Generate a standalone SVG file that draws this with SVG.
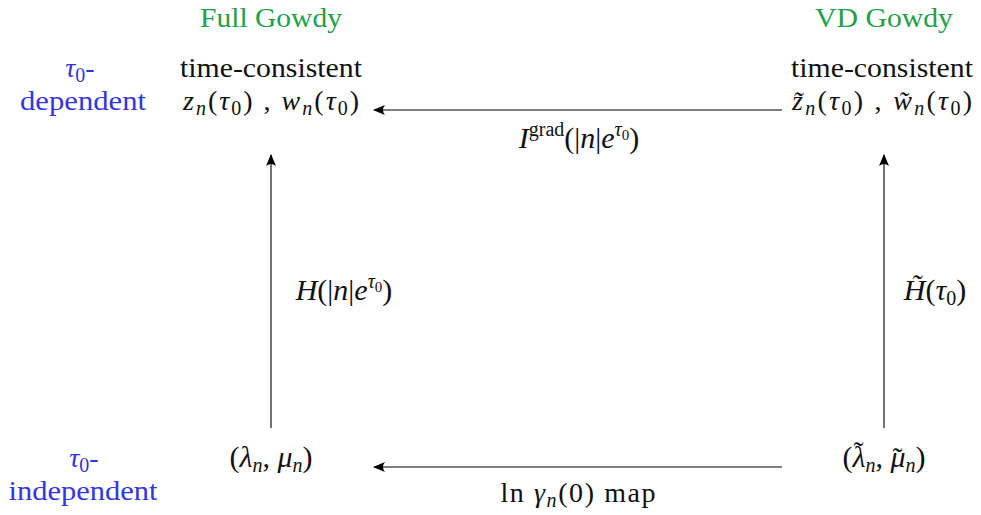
<svg xmlns="http://www.w3.org/2000/svg" width="981" height="515" viewBox="0 0 981 515">
<defs>
<marker id="ah" viewBox="0 0 12 10" refX="11" refY="5" markerWidth="12" markerHeight="10" markerUnits="userSpaceOnUse" orient="auto">
<path d="M0,0 Q4,5 0,10 L12,5 Z" fill="#000"/>
</marker>
<style>
text{font-family:"Liberation Serif","DejaVu Serif",serif;font-size:28px;fill:#111;}
text.m{font-size:30px;}
.it{font-style:italic;}
.sb{font-size:20px;}
.sp{font-size:20px;}
.ss{font-size:15px;}
.blue{fill:#3535e0;}
.green{fill:#22a04a;}
.conn line{stroke:#000;stroke-width:1.1;fill:none;marker-end:url(#ah);}
</style>
</defs>
<rect width="981" height="515" fill="#fff"/>
<g id="headers">
<text class="green" x="271" y="27" text-anchor="middle" textLength="142" lengthAdjust="spacingAndGlyphs">Full Gowdy</text>
<text class="green" x="884" y="27" text-anchor="middle" textLength="138" lengthAdjust="spacingAndGlyphs">VD Gowdy</text>
</g>
<g id="row-labels">
<text class="blue" x="80" y="77" text-anchor="middle"><tspan class="it">τ</tspan><tspan class="sb" dy="5">0</tspan><tspan dy="-5">-</tspan></text>
<text class="blue" x="83" y="110" text-anchor="middle" textLength="126" lengthAdjust="spacingAndGlyphs">dependent</text>
<text class="blue" x="84" y="467" text-anchor="middle"><tspan class="it">τ</tspan><tspan class="sb" dy="5">0</tspan><tspan dy="-5">-</tspan></text>
<text class="blue" x="83" y="500" text-anchor="middle" textLength="149" lengthAdjust="spacingAndGlyphs">independent</text>
</g>
<g id="full-tc">
<text x="271" y="77" text-anchor="middle" textLength="182" lengthAdjust="spacingAndGlyphs">time-consistent</text>
<text x="271" y="110" text-anchor="middle" textLength="176"><tspan class="it">z</tspan><tspan class="sb it" dy="5">n</tspan><tspan dy="-5">(</tspan><tspan class="it">τ</tspan><tspan class="sb" dy="5">0</tspan><tspan dy="-5">)  ,  </tspan><tspan class="it">w</tspan><tspan class="sb it" dy="5">n</tspan><tspan dy="-5">(</tspan><tspan class="it">τ</tspan><tspan class="sb" dy="5">0</tspan><tspan dy="-5">)</tspan></text>
</g>
<g id="vd-tc">
<text x="882" y="77" text-anchor="middle" textLength="182" lengthAdjust="spacingAndGlyphs">time-consistent</text>
<text x="882" y="110" text-anchor="middle" textLength="180"><tspan class="it">z̃</tspan><tspan class="sb it" dy="5">n</tspan><tspan dy="-5">(</tspan><tspan class="it">τ</tspan><tspan class="sb" dy="5">0</tspan><tspan dy="-5">)  ,  </tspan><tspan class="it">w̃</tspan><tspan class="sb it" dy="5">n</tspan><tspan dy="-5">(</tspan><tspan class="it">τ</tspan><tspan class="sb" dy="5">0</tspan><tspan dy="-5">)</tspan></text>
</g>
<g id="full-ind">
<text class="m" x="271" y="467" text-anchor="middle">(<tspan class="it">λ</tspan><tspan class="sb it" dy="5">n</tspan><tspan dy="-5">, </tspan><tspan class="it">μ</tspan><tspan class="sb it" dy="5">n</tspan><tspan dy="-5">)</tspan></text>
</g>
<g id="vd-ind">
<text class="m" x="884" y="467" text-anchor="middle">(<tspan class="it">λ</tspan><tspan dx="-12" dy="-5">˜</tspan><tspan class="sb it" dx="1.8" dy="10">n</tspan><tspan dy="-5">, </tspan><tspan class="it">μ</tspan><tspan dx="-13" dy="1">˜</tspan><tspan class="sb it" dx="2.9" dy="4">n</tspan><tspan dy="-5">)</tspan></text>
</g>
<g class="conn" id="connectors">
<line x1="782" y1="110" x2="374" y2="110"/>
<line x1="782" y1="467" x2="374" y2="467"/>
<line x1="271" y1="428" x2="271" y2="155"/>
<line x1="884" y1="428" x2="884" y2="155"/>
</g>
<g id="edge-labels">
<text class="m" x="579" y="148" text-anchor="middle"><tspan class="it">I</tspan><tspan class="sp" dy="-12">grad</tspan><tspan dy="12">(|</tspan><tspan class="it">n</tspan><tspan>|</tspan><tspan class="it">e</tspan><tspan class="sp it" dy="-12">τ</tspan><tspan class="ss" dy="4">0</tspan><tspan dy="8">)</tspan></text>
<text class="m" x="344" y="300" text-anchor="middle"><tspan class="it">H</tspan>(|<tspan class="it">n</tspan>|<tspan class="it">e</tspan><tspan class="sp it" dy="-12">τ</tspan><tspan class="ss" dy="4">0</tspan><tspan dy="8">)</tspan></text>
<text class="m" x="935" y="300" text-anchor="middle"><tspan class="it">H̃</tspan>(<tspan class="it">τ</tspan><tspan class="sb" dy="5">0</tspan><tspan dy="-5">)</tspan></text>
<text x="578" y="502" text-anchor="middle" textLength="155">ln <tspan class="it">γ</tspan><tspan class="sb it" dy="5">n</tspan><tspan dy="-5">(0)  map</tspan></text>
</g>
</svg>
